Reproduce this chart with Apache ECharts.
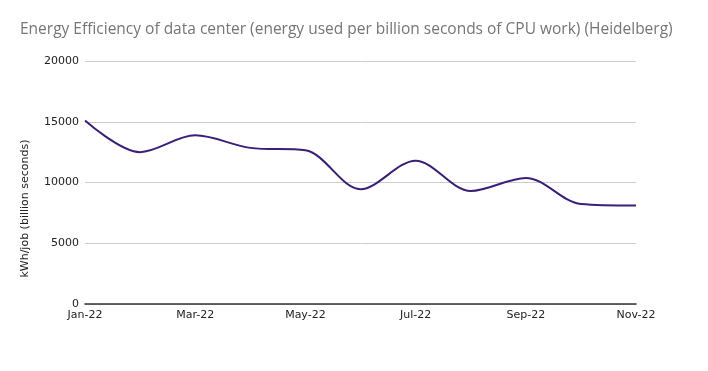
<!DOCTYPE html>
<html><head><meta charset="utf-8">
<script src="https://cdn.jsdelivr.net/npm/echarts@6/dist/echarts.min.js"></script>
<style>html,body{margin:0;padding:0;background:#fff}#c{width:708px;height:371px}</style>
</head><body><div id="c"></div>
<script>
const months = ['Jan-22','Feb-22','Mar-22','Apr-22','May-22','Jun-22','Jul-22','Aug-22','Sep-22','Oct-22','Nov-22'];
const energy = [15100, 12500, 13880, 12850, 12650, 9450, 11800, 9300, 10380, 8230, 8100];
const yTicks = [0, 5000, 10000, 15000, 20000];

const chart = echarts.init(document.getElementById('c'));
chart.setOption({
  animation: false,
  title: {
    text: 'Energy Efficiency of data center (energy used per billion seconds of CPU work) (Heidelberg)',
    left: 15, top: 17,
    textStyle: {fontFamily: 'Open Sans', fontSize: 15.5, fontWeight: 'normal', color: '#757575'}
  },
  grid: {left: 85, right: 72, top: 61, bottom: 67},
  xAxis: {
    type: 'category', data: months, boundaryGap: false,
    axisLine: {lineStyle: {color: '#333', width: 1.5}},
    axisTick: {show: false},
    axisLabel: {interval: 1, color: '#222', fontFamily: 'DejaVu Sans', fontSize: 11, margin: 6}
  },
  yAxis: {
    type: 'value', min: yTicks[0], max: yTicks[yTicks.length-1], interval: 5000,
    name: 'kWh/job (billion seconds)', nameLocation: 'middle', nameGap: 54, nameRotate: 90,
    nameTextStyle: {fontFamily: 'DejaVu Sans', fontSize: 11, color: '#222', padding: [0, 52, 0, 0]},
    axisLine: {show: false}, axisTick: {show: false},
    axisLabel: {color: '#222', fontFamily: 'DejaVu Sans', fontSize: 11, margin: 6, formatter: v => String(v)},
    splitLine: {lineStyle: {color: '#cccccc', width: 1}}
  },
  series: [{
    type: 'line', data: energy, smooth: 0.33, showSymbol: false,
    lineStyle: {color: '#3a1e78', width: 2}
  }]
});
</script></body></html>
